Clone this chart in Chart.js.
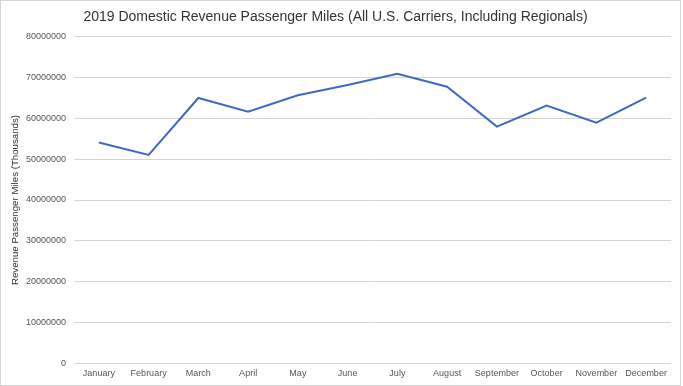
<!DOCTYPE html>
<html>
<head>
<meta charset="utf-8">
<script src="https://cdn.jsdelivr.net/npm/chart.js@4.4.0/dist/chart.umd.min.js"></script>
<style>
  body { margin: 0; background: #fff; }
  #wrap { position: relative; width: 683px; height: 386px; }
  #frame { position: absolute; left: 0; top: 0; width: 679px; height: 384px; border: 1px solid #d6d6d6; pointer-events: none; }
</style>
</head>
<body>
<div id="wrap">
  <canvas id="lineChart" width="683" height="386"></canvas>
  <div id="frame"></div>
</div>
<script>
const months = ['January', 'February', 'March', 'April', 'May', 'June', 'July',
                'August', 'September', 'October', 'November', 'December'];
// revenue passenger miles, thousands
const rpm = [54070000, 51060000, 65000000, 61650000, 65660000, 68180000, 70950000,
             67770000, 57980000, 63120000, 58960000, 65080000];
const yMin = 0;
const yMax = 80000000;
const yStep = 10000000;

const fontFamily = '"Liberation Sans", Arial, sans-serif';

const ctx = document.getElementById('lineChart');
const lineChart = new Chart(ctx, {
    type: 'line',
    data: {
        labels: months,
        datasets: [
            {
                label: 'Revenue Passenger Miles',
                data: rpm,
                fill: false,
                borderColor: '#4169c4',
                borderWidth: 2,
                pointRadius: 0,
                tension: 0,
            },
        ],
    },
    options: {
        responsive: false,
        animation: false,
        layout: {
            padding: { left: 0, right: 12, top: 0, bottom: 2 }
        },
        scales: {
            x: {
                offset: true,
                grid: { display: false, drawTicks: false, tickLength: 0 },
                border: { display: false },
                ticks: {
                    color: '#555',
                    font: { family: fontFamily, size: 9 },
                    padding: 5,
                    maxRotation: 0,
                    autoSkip: false,
                },
            },
            y: {
                min: yMin,
                max: yMax,
                grid: { color: '#d4d4d4', drawTicks: false },
                border: { display: false },
                ticks: {
                    stepSize: yStep,
                    color: '#555',
                    padding: 8,
                    font: { family: fontFamily, size: 9 },
                    callback: (v) => String(v),
                },
                title: {
                    display: true,
                    text: 'Revenue Passenger Miles (Thousands)',
                    color: '#333',
                    font: { family: fontFamily, size: 9.7 },
                    padding: { top: 10, bottom: 0 },
                },
                afterFit: (scale) => { scale.width = 74; },
            },
        },
        plugins: {
            title: {
                display: true,
                text: '2019 Domestic Revenue Passenger Miles (All U.S. Carriers, Including Regionals)',
                color: '#333',
                font: { family: fontFamily, size: 14, weight: 'normal' },
                padding: { top: 9, bottom: 11 },
            },
            legend: { display: false },
            tooltip: { enabled: false },
        },
    },
});
console.log('Draw completed');
</script>
</body>
</html>
